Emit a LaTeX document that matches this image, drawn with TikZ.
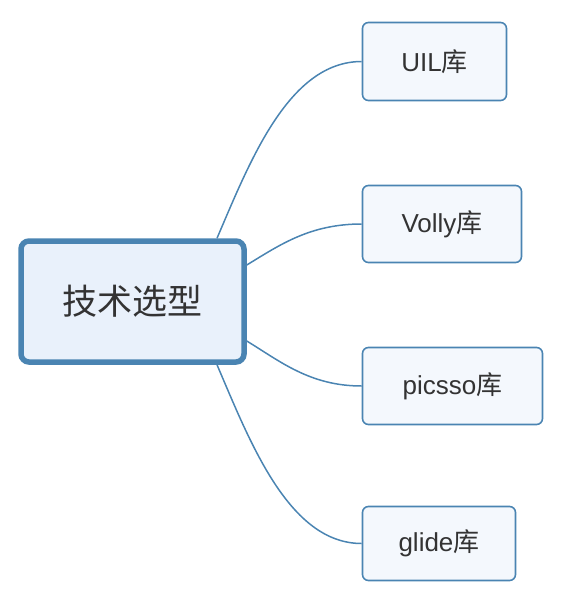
\documentclass[tikz,border=0pt]{standalone}
\usepackage{fontspec}
\setmainfont{Liberation Sans}
\newfontfamily\cjk{Noto Sans CJK SC}
\definecolor{edge}{HTML}{4A84B2}
\definecolor{rootfill}{HTML}{E9F1FB}
\definecolor{leaffill}{HTML}{F4F8FD}
\definecolor{txt}{HTML}{333333}
\begin{document}
\begin{tikzpicture}[x=1pt,y=-1pt,
  rootbox/.style={draw=edge,fill=rootfill,line width=5.5pt,rounded corners=8pt,text=txt,
    minimum width=223pt,minimum height=121pt,inner sep=0pt,font=\cjk\fontsize{35}{40}\selectfont},
  leafbox/.style={draw=edge,fill=leaffill,line width=1.6pt,rounded corners=6pt,text=txt,
    inner sep=0pt,font=\fontsize{26}{30}\selectfont},
  conn/.style={draw=edge,line width=1.5pt}]
\useasboundingbox (0,0) rectangle (560,600);
\node[rootbox] (c) at (132.5,301.5) {技术选型};
\node[leafbox,minimum width=144pt,minimum height=78pt] (a) at (434.5,61.5) {UIL{\cjk 库}};
\node[leafbox,minimum width=159pt,minimum height=77pt] (b) at (442,224) {Volly{\cjk 库}};
\node[leafbox,minimum width=180pt,minimum height=77pt] (p) at (452.5,386) {picsso{\cjk 库}};
\node[leafbox,minimum width=153pt,minimum height=74pt] (g) at (439,543.5) {glide{\cjk 库}};
\draw[conn] ([xshift=84.5pt]c.north) .. controls +(33,-77) and +(-73,0) .. (a.west);
\draw[conn] ([yshift=36.5pt]c.east) .. controls +(33,-20) and +(-52,0) .. (b.west);
\draw[conn] ([yshift=-39.5pt]c.east) .. controls +(33,20) and +(-52,0) .. (p.west);
\draw[conn] ([xshift=84.5pt]c.south) .. controls +(33,77) and +(-73,0) .. (g.west);
\end{tikzpicture}
\end{document}
